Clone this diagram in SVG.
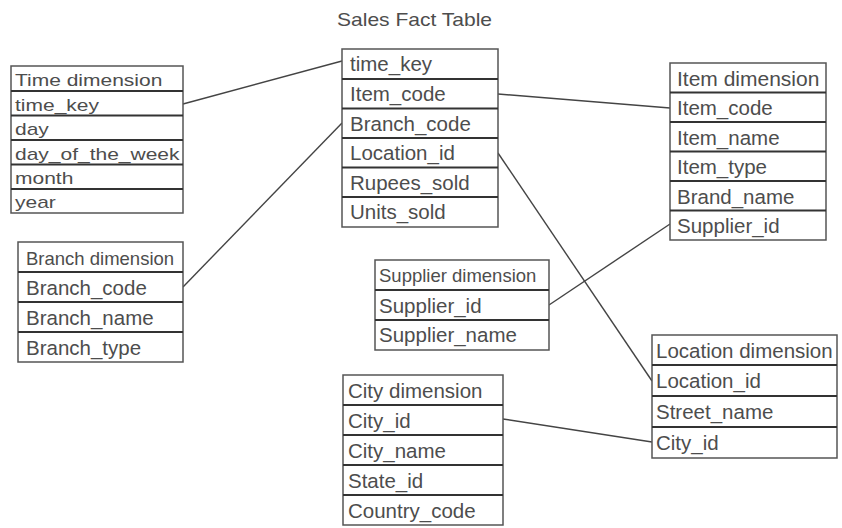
<svg xmlns="http://www.w3.org/2000/svg" width="842" height="528" viewBox="0 0 842 528">
<style>
.bx{fill:#fff;stroke:#555;stroke-width:1.5}
.dv{stroke:#333;stroke-width:2}
.t{font-family:"Liberation Sans",Arial,sans-serif;font-size:20.5px;fill:#4d4d4d}
.h{font-family:"Liberation Sans",Arial,sans-serif;font-size:18.5px;fill:#4d4d4d}
.ln{stroke:#444;stroke-width:1.4;fill:none}
</style>
<rect width="842" height="528" fill="#fff"/>
<text class="t" x="337" y="26" style="font-size:19px" textLength="155" lengthAdjust="spacingAndGlyphs">Sales Fact Table</text>

<g id="connectors">
<line class="ln" x1="183" y1="104" x2="342" y2="61"/>
<line class="ln" x1="183" y1="287" x2="342" y2="123"/>
<line class="ln" x1="498" y1="94" x2="670" y2="108"/>
<line class="ln" x1="498" y1="153" x2="652" y2="381"/>
<line class="ln" x1="549" y1="305" x2="670" y2="224"/>
<line class="ln" x1="503" y1="419" x2="652" y2="442"/>
</g>

<g id="time-dimension">
<rect class="bx" x="11" y="66" width="172" height="147"/>
<line class="dv" x1="11" y1="91" x2="183" y2="91"/>
<line class="dv" x1="11" y1="115.5" x2="183" y2="115.5"/>
<line class="dv" x1="11" y1="140" x2="183" y2="140"/>
<line class="dv" x1="11" y1="164.5" x2="183" y2="164.5"/>
<line class="dv" x1="11" y1="189" x2="183" y2="189"/>
<text class="t" transform="translate(15,86) scale(1,0.82)" style="font-size:21px">Time dimension</text>
<text class="t" transform="translate(15,110.5) scale(1,0.82)" style="font-size:21px">time_key</text>
<text class="t" transform="translate(15,135) scale(1,0.82)" style="font-size:21px">day</text>
<text class="t" transform="translate(15,159.5) scale(1,0.82)" style="font-size:21px">day_of_the_week</text>
<text class="t" transform="translate(15,184) scale(1,0.82)" style="font-size:21px">month</text>
<text class="t" transform="translate(15,208) scale(1,0.82)" style="font-size:21px">year</text>
</g>

<g id="sales-fact">
<rect class="bx" x="342" y="49" width="156" height="178"/>
<line class="dv" x1="342" y1="79" x2="498" y2="79"/>
<line class="dv" x1="342" y1="108.5" x2="498" y2="108.5"/>
<line class="dv" x1="342" y1="138" x2="498" y2="138"/>
<line class="dv" x1="342" y1="167.5" x2="498" y2="167.5"/>
<line class="dv" x1="342" y1="197" x2="498" y2="197"/>
<text class="t" x="350" y="71">time_key</text>
<text class="t" x="350" y="101">Item_code</text>
<text class="t" x="350" y="130.5">Branch_code</text>
<text class="t" x="350" y="160">Location_id</text>
<text class="t" x="350" y="189.5">Rupees_sold</text>
<text class="t" x="350" y="219">Units_sold</text>
</g>

<g id="item-dimension">
<rect class="bx" x="670" y="63" width="156" height="177"/>
<line class="dv" x1="670" y1="92.5" x2="826" y2="92.5"/>
<line class="dv" x1="670" y1="122" x2="826" y2="122"/>
<line class="dv" x1="670" y1="151.5" x2="826" y2="151.5"/>
<line class="dv" x1="670" y1="181" x2="826" y2="181"/>
<line class="dv" x1="670" y1="210.5" x2="826" y2="210.5"/>
<text class="t" x="677" y="85.5" style="font-size:21px">Item dimension</text>
<text class="t" x="677" y="115">Item_code</text>
<text class="t" x="677" y="144.5">Item_name</text>
<text class="t" x="677" y="174">Item_type</text>
<text class="t" x="677" y="203.5">Brand_name</text>
<text class="t" x="677" y="233">Supplier_id</text>
</g>

<g id="branch-dimension">
<rect class="bx" x="18" y="242" width="165" height="120"/>
<line class="dv" x1="18" y1="272" x2="183" y2="272"/>
<line class="dv" x1="18" y1="302" x2="183" y2="302"/>
<line class="dv" x1="18" y1="332" x2="183" y2="332"/>
<text class="h" x="26" y="265">Branch dimension</text>
<text class="t" x="26" y="295">Branch_code</text>
<text class="t" x="26" y="325">Branch_name</text>
<text class="t" x="26" y="355">Branch_type</text>
</g>

<g id="supplier-dimension">
<rect class="bx" x="375" y="260" width="174" height="90"/>
<line class="dv" x1="375" y1="290" x2="549" y2="290"/>
<line class="dv" x1="375" y1="320" x2="549" y2="320"/>
<text class="h" x="379" y="282">Supplier dimension</text>
<text class="t" x="379" y="313">Supplier_id</text>
<text class="t" x="379" y="342">Supplier_name</text>
</g>

<g id="city-dimension">
<rect class="bx" x="343" y="375" width="160" height="150"/>
<line class="dv" x1="343" y1="405" x2="503" y2="405"/>
<line class="dv" x1="343" y1="435" x2="503" y2="435"/>
<line class="dv" x1="343" y1="465" x2="503" y2="465"/>
<line class="dv" x1="343" y1="495" x2="503" y2="495"/>
<text class="t" x="348" y="398">City dimension</text>
<text class="t" x="348" y="428">City_id</text>
<text class="t" x="348" y="458">City_name</text>
<text class="t" x="348" y="488">State_id</text>
<text class="t" x="348" y="518">Country_code</text>
</g>

<g id="location-dimension">
<rect class="bx" x="652" y="335" width="185" height="123"/>
<line class="dv" x1="652" y1="365" x2="837" y2="365"/>
<line class="dv" x1="652" y1="396" x2="837" y2="396"/>
<line class="dv" x1="652" y1="427" x2="837" y2="427"/>
<text class="t" x="656" y="358">Location dimension</text>
<text class="t" x="656" y="388">Location_id</text>
<text class="t" x="656" y="419">Street_name</text>
<text class="t" x="656" y="450">City_id</text>
</g>
</svg>
